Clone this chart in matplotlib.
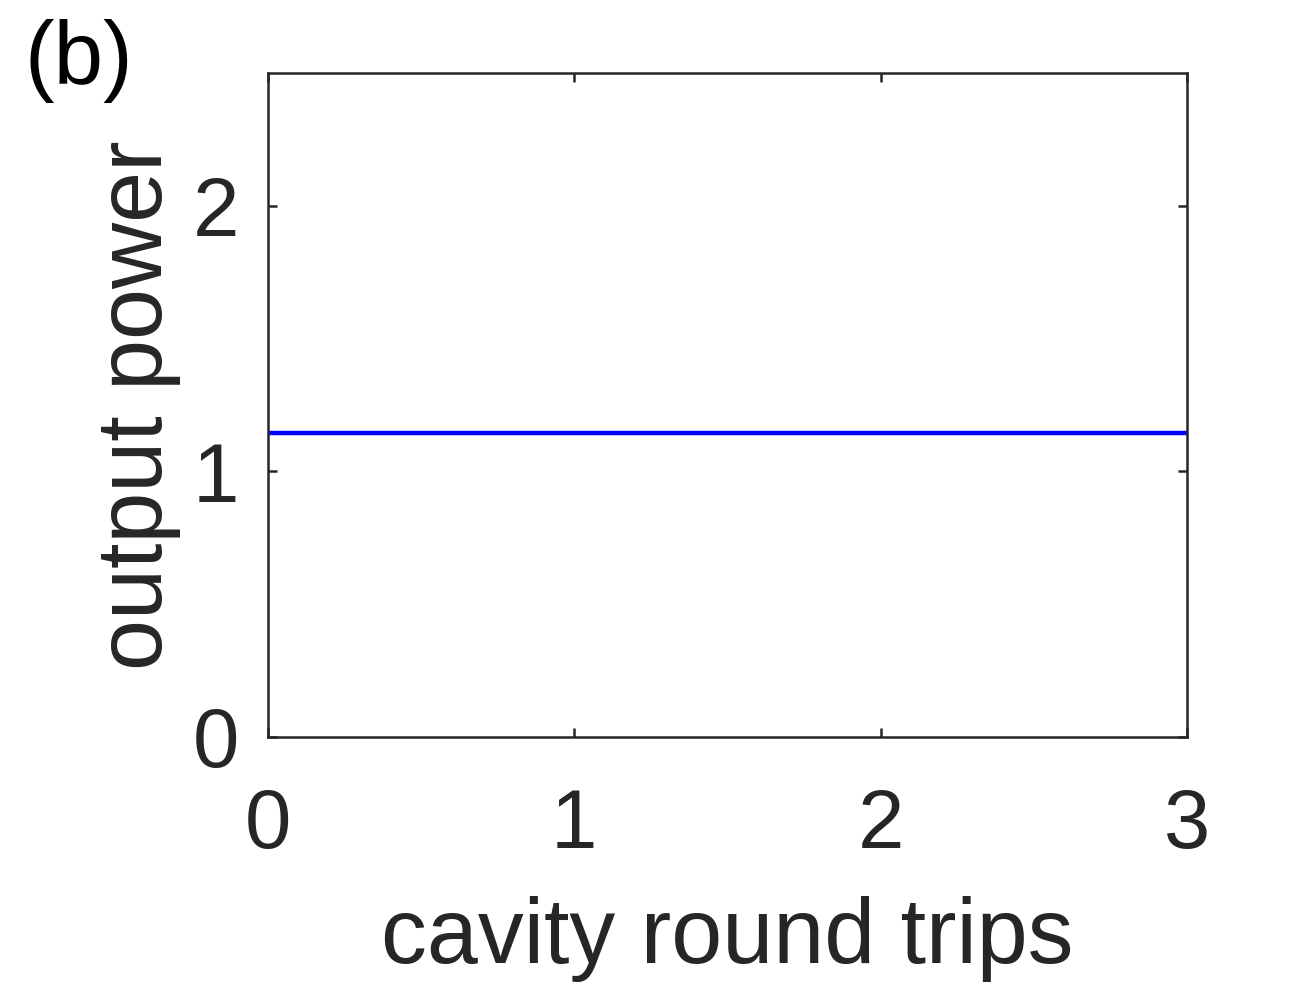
import numpy as np
import matplotlib
matplotlib.use("Agg")
import matplotlib.pyplot as plt

# data
round_trips = [0, 3]
output_power = [1.145, 1.145]
x_ticks = [0, 1, 2, 3]
y_ticks = [0, 1, 2]

plt.rcParams['font.family'] = ['Liberation Sans', 'DejaVu Sans']
txt = '#262626'

fig = plt.figure(figsize=(13.13, 9.85), dpi=100)
ax = fig.add_axes([268 / 1313, 1 - 737 / 985, 919 / 1313, 664 / 985])

ax.plot(round_trips, output_power, color='#0000ff', lw=3.2)

ax.set_xlim(0, 3)
ax.set_ylim(0, 2.5)
ax.set_xticks(x_ticks)
ax.set_yticks(y_ticks)
for s in ax.spines.values():
    s.set_linewidth(1.8)
    s.set_color(txt)
ax.tick_params(direction='in', length=6.5, width=1.8, color=txt,
               labelsize=60, labelcolor=txt, top=True, right=True)
ax.tick_params(axis='x', pad=36)
ax.tick_params(axis='y', pad=21)

ax.set_xlabel('cavity round trips', fontsize=66, color=txt, va='baseline')
ax.xaxis.set_label_coords(0.5, (737 - 963) / 664)
ax.set_ylabel('output power', fontsize=66, color=txt, va='baseline')
ax.yaxis.set_label_coords(-(268 - 162) / 919, 0.5)

fig.text(25 / 1313, 1 - 84 / 985, '(b)', fontsize=64, color='black',
         ha='left', va='baseline')

fig.savefig('out.png', dpi=100)
